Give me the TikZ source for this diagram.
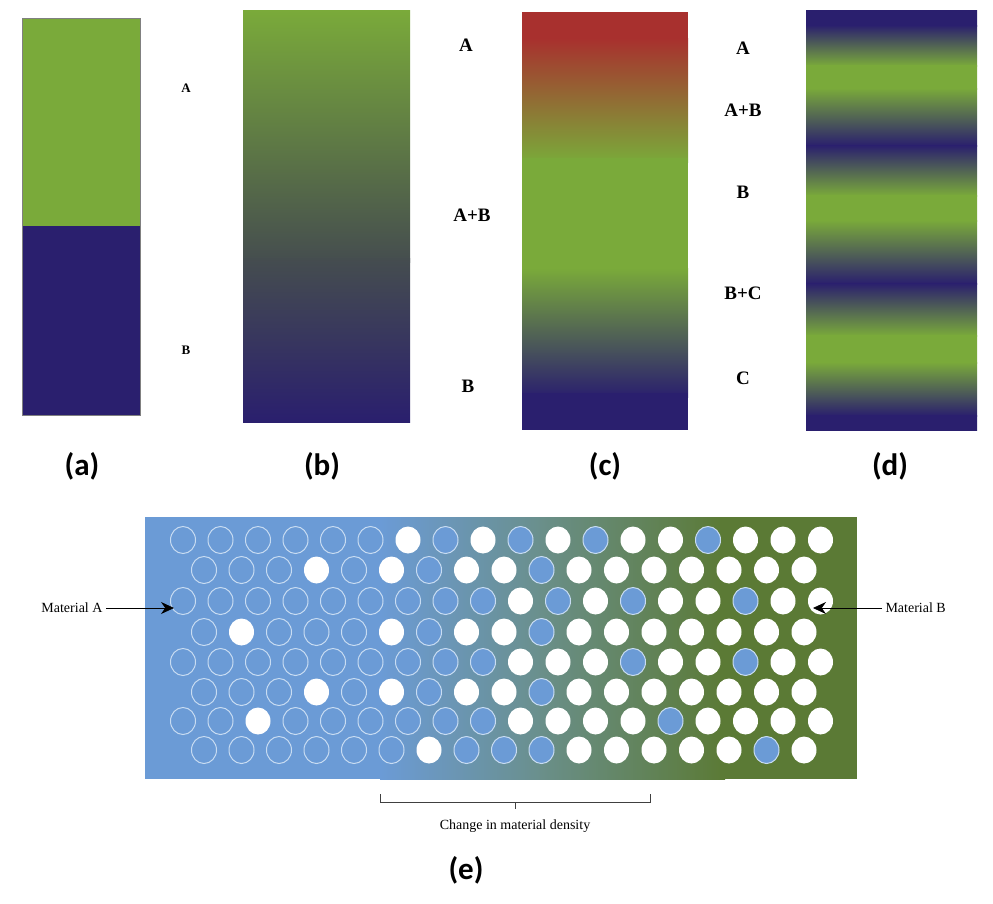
\documentclass[tikz,border=0pt]{standalone}
\usepackage{fontspec}
\setmainfont{Liberation Serif}
\newfontfamily\panelfont{Carlito}
\usetikzlibrary{arrows.meta,shapes.geometric}
\definecolor{matgreen}{HTML}{7AAA3A}
\definecolor{matnavy}{HTML}{2A1F6E}
\definecolor{matred}{HTML}{A8302E}
\definecolor{midgray}{HTML}{454D4F}
\definecolor{plateblue}{HTML}{6B9BD6}
\definecolor{plateteal}{HTML}{6A8F8A}
\definecolor{plategreen}{HTML}{5B7A35}
\definecolor{ringblue}{HTML}{C8DCF2}
\tikzset{
  panel label/.style={font=\panelfont\bfseries\fontsize{31}{31}\selectfont},
  mat label/.style={font=\bfseries\fontsize{19}{19}\selectfont},
  pore/.style={ellipse, minimum width=25pt, minimum height=27pt, inner sep=0pt},
}
\begin{document}
\begin{tikzpicture}[x=1pt,y=-1pt]
    \useasboundingbox (0,0) rectangle (993,903);

    % --- (a) two layers ---
    \fill[matgreen] (22,18) rectangle (140,226);
    \fill[matnavy] (22,226) rectangle (140,415);
    \draw[gray, thick] (22,18) rectangle (140,415);
    \node[font=\bfseries\fontsize{13}{13}\selectfont] (aA) at (186,88) {A};
    \node[font=\bfseries\fontsize{13}{13}\selectfont] (aB) at (186,350) {B};

    % --- (b) graded A to B ---
    \shade[top color=matgreen, bottom color=midgray] (243,10) rectangle (410,262);
    \shade[top color=midgray, bottom color=matnavy] (243,258) rectangle (410,422);
    \node[mat label] (bA) at (466,45) {A};
    \node[mat label] (bAB) at (472,215) {A+B};
    \node[mat label] (bB) at (468,386) {B};

    % --- (c) graded A to B to C ---
    \fill[matred] (522,12) rectangle (688,42);
    \shade[top color=matred, bottom color=matgreen] (522,38) rectangle (688,162);
    \fill[matgreen] (522,158) rectangle (688,272);
    \shade[top color=matgreen, bottom color=matnavy] (522,268) rectangle (688,397);
    \fill[matnavy] (522,393) rectangle (688,430);
    \foreach \name/\y/\txt in {cA/48/A, cAB/110/A+B, cB/192/B, cBC/293/B+C, cC/378/C}
        \node[mat label] (\name) at (743,\y) {\txt};

    % --- (d) periodic layers ---
    \foreach \ya/\ca/\yb/\cb in {10/matnavy/25/matnavy, 25/matnavy/65/matgreen,
        65/matgreen/88/matgreen, 88/matgreen/145/matnavy, 145/matnavy/195/matgreen,
        195/matgreen/220/matgreen, 220/matgreen/283/matnavy, 283/matnavy/335/matgreen,
        335/matgreen/362/matgreen, 362/matgreen/415/matnavy, 415/matnavy/429/matnavy}
        \shade[top color=\ca, bottom color=\cb] (806,\ya) rectangle (977,\yb+1);

    % Panel labels
    \foreach \name/\x/\txt in {la/82/a, lb/322/b, lc/605/c, ld/890/d}
        \node[panel label] (\name) at (\x,466) {(\txt)};

    % --- (e) porous plate ---
    \begin{scope}
      \clip (145,517) rectangle (857,779);
      \fill[plateblue] (145,517) rectangle (385,779);
      \shade[left color=plateblue, right color=plateteal] (380,510) rectangle (545,785);
      \shade[left color=plateteal, right color=plategreen] (540,510) rectangle (725,785);
      \fill[plategreen] (720,517) rectangle (857,779);
    \end{scope}

    \foreach \row/\y/\x/\pat in {
        0/540/183/{0,0,0,0,0,0,1,0,1,0,1,0,1,1,0,1,1,1},
        1/570/204/{0,0,0,1,0,1,0,1,1,0,1,1,1,1,1,1,1},
        2/601/183/{0,0,0,0,0,0,0,0,0,1,0,1,0,1,1,0,1,1},
        3/632/204/{0,1,0,0,0,1,0,1,1,0,1,1,1,1,1,1,1},
        4/662/183/{0,0,0,0,0,0,0,0,0,1,1,1,0,1,1,0,1,1},
        5/692/204/{0,0,0,1,0,1,0,1,1,0,1,1,1,1,1,1,1},
        6/721/183/{0,0,1,0,0,0,0,0,0,1,1,1,1,0,1,1,1,1},
        7/750/204/{0,0,0,0,0,0,1,0,0,0,1,1,1,1,1,0,1}}
      \foreach \c [count=\i from 0] in \pat {
        \ifnum\c=1
          \node[pore, fill=white] (p\row-\i) at (\x+37.5*\i,\y) {};
        \else
          \node[pore, fill=plateblue, draw=ringblue, line width=1pt] (p\row-\i) at (\x+37.5*\i,\y) {};
        \fi
      };

    % Material arrows
    \node[anchor=east, font=\fontsize{14}{14}\selectfont] (matA) at (106,608) {Material A};
    \coordinate (tipA) at (174,608);
    \draw[-{Stealth[length=13pt,width=12pt]}, thick] (matA) -- (tipA);
    \node[anchor=west, font=\fontsize{14}{14}\selectfont] (matB) at (882,608) {Material B};
    \coordinate (tipB) at (813,608);
    \draw[-{Stealth[length=13pt,width=12pt]}, thick] (matB) -- (tipB);

    % Density bracket
    \draw[thick, black!75] (380,794) -- (380,802) -- (650,802) -- (650,794);
    \draw[thick, black!75] (515,802) -- (515,809);
    \node[font=\fontsize{14}{14}\selectfont] (dens) at (515,826) {Change in material density};
    \node[panel label] (le) at (466,870) {(e)};
\end{tikzpicture}
\end{document}
